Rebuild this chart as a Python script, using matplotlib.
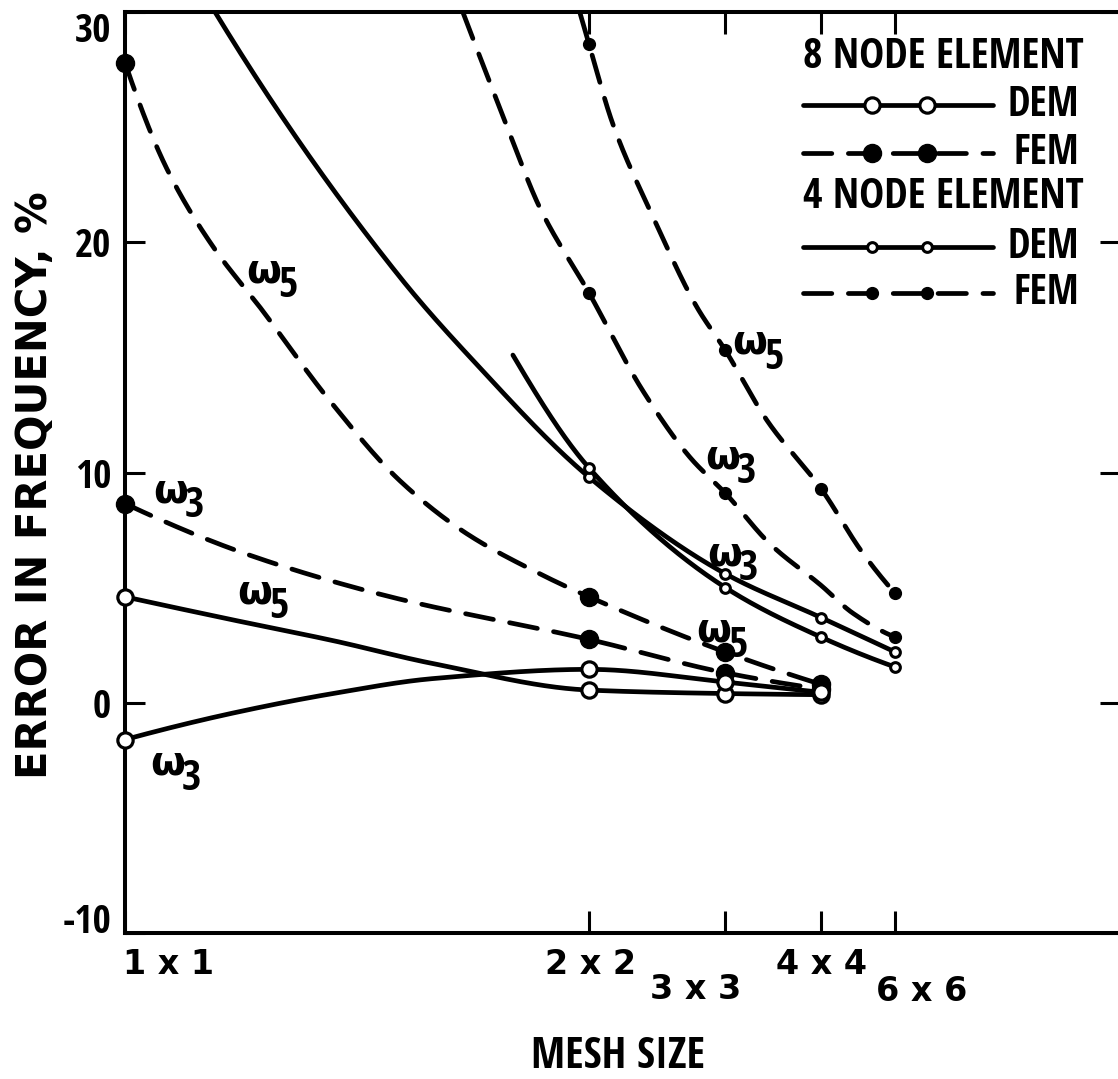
import numpy as np
import matplotlib
matplotlib.use('Agg')
import matplotlib.pyplot as plt
from matplotlib import font_manager as fm
from matplotlib.textpath import TextPath
from matplotlib.transforms import blended_transform_factory

# ---------------- data ----------------
mesh_labels = ['1 x 1', '2 x 2', '3 x 3', '4 x 4', '6 x 6']
mesh_pos = [0.0, 0.5, 0.647, 0.75, 0.83]          # position of each mesh on the x axis
y_ticks = [-10, 0, 10, 20, 30]
y_tick_labels = ['-10', '0', '10', '20', '30']

# 8 node element, FEM (large filled circles, dashed)
fem8_w5_x = [0.0, 0.045, 0.095, 0.145, 0.221, 0.296, 0.368, 0.447, 0.5, 0.647, 0.75]
fem8_w5_y = [27.8, 23.2, 19.8, 17.2, 13.1, 9.65, 7.35, 5.6, 4.6, 2.2, 0.8]
fem8_w3_x = [0.0, 0.135, 0.286, 0.5, 0.647, 0.75]
fem8_w3_y = [8.65, 6.4, 4.6, 2.75, 1.3, 0.6]
# 8 node element, DEM (large open circles, solid)
dem8_w5_x = [0.0, 0.116, 0.224, 0.332, 0.5, 0.647, 0.75]
dem8_w5_y = [4.6, 3.6, 2.7, 1.7, 0.55, 0.4, 0.35]
dem8_w3_x = [0.0, 0.116, 0.224, 0.332, 0.5, 0.647, 0.75]
dem8_w3_y = [-1.6, -0.45, 0.4, 1.05, 1.45, 0.9, 0.45]
# 4 node element, FEM (small filled circles, dashed)
fem4_w5_x = [0.490, 0.5, 0.526, 0.569, 0.616, 0.647, 0.692, 0.75, 0.795, 0.83]
fem4_w5_y = [30.0, 28.6, 25.1, 21.1, 17.2, 15.3, 12.25, 9.3, 6.5, 4.75]
fem4_w3_x = [0.364, 0.412, 0.447, 0.5, 0.558, 0.609, 0.647, 0.695, 0.75, 0.784, 0.83]
fem4_w3_y = [30.0, 25.0, 21.5, 17.8, 13.55, 10.65, 9.1, 6.9, 5.1, 3.9, 2.85]
fem4_w3_nomark = [0.75]                             # no symbol drawn at 4 x 4
# 4 node element, DEM (small open circles, solid)
dem4_a_x = [0.097, 0.296, 0.372, 0.5, 0.647, 0.75, 0.83]
dem4_a_y = [30.0, 18.5, 15.0, 9.8, 5.6, 3.7, 2.2]
dem4_b_x = [0.418, 0.5, 0.647, 0.75, 0.83]
dem4_b_y = [15.1, 10.2, 5.0, 2.85, 1.55]

# curve labels: (subscript, x, y of omega baseline-left)
omega_labels = [('5', 0.131, 18.27), ('3', 0.030, 8.71), ('5', 0.121, 4.33),
                ('3', 0.027, -3.13), ('5', 0.654, 15.18), ('3', 0.625, 10.19),
                ('3', 0.627, 5.98), ('5', 0.616, 2.64)]

PX_PER_PT = 100 / 72


# ---------------- fonts ----------------
def _weight(w):
    if isinstance(w, str):
        return fm.weight_dict.get(w, 400)
    return int(w)


def measure(fp, s):
    p = fp.copy()
    p.set_size(100)
    ext = TextPath((0, 0), s, prop=p).get_extents()
    return ext.width / 100.0, ext.height / 100.0


def pick_condensed_bold(target_ratio=9.5):
    best, best_d = None, 1e9
    ok_fams = ('dejavu sans', 'liberation sans', 'noto sans', 'roboto', 'open sans', 'lato')
    seen = set()
    for f in fm.fontManager.ttflist:
        nm = f.name.lower()
        if not nm.startswith(ok_fams):
            continue
        if any(b in nm for b in ('cjk', 'mono', 'display', 'math', 'symbol')):
            continue
        fn = f.fname.lower()
        if f.style != 'normal' or 'italic' in fn or 'oblique' in fn:
            continue
        if _weight(f.weight) < 600 or f.fname in seen:
            continue
        seen.add(f.fname)
        try:
            fp = fm.FontProperties(fname=f.fname)
            w, _ = measure(fp, '8 NODE ELEMENT')
            _, cap = measure(fp, 'H')
            ratio = w / cap
        except Exception:
            continue
        d = abs(ratio - target_ratio)
        if d < best_d:
            best_d, best = d, f.fname
    if best is None:
        return fm.FontProperties(family='DejaVu Sans', weight='bold')
    return fm.FontProperties(fname=best)


NARROW_FP = pick_condensed_bold()
WIDE_FP = fm.FontProperties(family='DejaVu Sans', weight='bold')


def sized(fp, size):
    p = fp.copy()
    p.set_size(size)
    return p


def fit(fp, s, width_px, cap_px):
    w, _ = measure(fp, s)
    _, cap = measure(fp, 'H')
    return min(width_px / (w * PX_PER_PT), cap_px / (cap * PX_PER_PT))


def pchip(x, y, xs):
    x = np.asarray(x, float)
    y = np.asarray(y, float)
    h = np.diff(x)
    d = np.diff(y) / h
    n = len(x)
    m = np.zeros(n)
    if n == 2:
        m[:] = d[0]
    else:
        for k in range(1, n - 1):
            if d[k - 1] * d[k] <= 0:
                m[k] = 0.0
            else:
                w1 = 2 * h[k] + h[k - 1]
                w2 = h[k] + 2 * h[k - 1]
                m[k] = (w1 + w2) / (w1 / d[k - 1] + w2 / d[k])

        def end(h0, h1, d0, d1):
            mm = ((2 * h0 + h1) * d0 - h0 * d1) / (h0 + h1)
            if np.sign(mm) != np.sign(d0):
                mm = 0.0
            elif np.sign(d0) != np.sign(d1) and abs(mm) > abs(3 * d0):
                mm = 3 * d0
            return mm
        m[0] = end(h[0], h[1], d[0], d[1])
        m[-1] = end(h[-1], h[-2], d[-1], d[-2])
    idx = np.clip(np.searchsorted(x, xs) - 1, 0, n - 2)
    t = (xs - x[idx]) / h[idx]
    h00 = 2 * t**3 - 3 * t**2 + 1
    h10 = t**3 - 2 * t**2 + t
    h01 = -2 * t**3 + 3 * t**2
    h11 = t**3 - t**2
    return h00 * y[idx] + h10 * h[idx] * m[idx] + h01 * y[idx + 1] + h11 * h[idx] * m[idx + 1]


LW = 3.4
DASH = (0, (6, 3.5))
BIG_OPEN = dict(marker='o', ms=11, mfc='white', mec='black', mew=2.3)
BIG_FILL = dict(marker='o', ms=13, mfc='black', mec='black', mew=1)
SMALL_OPEN = dict(marker='o', ms=7, mfc='white', mec='black', mew=2.2)
SMALL_FILL = dict(marker='o', ms=8.5, mfc='black', mec='black', mew=1)

fig = plt.figure(figsize=(11.18, 10.79), dpi=100)
ax = fig.add_axes([125 / 1118, 146 / 1079, 995 / 1118, 921 / 1079])
ax.set_xlim(0, 995 / 928)
ax.set_ylim(-10, 30)


def draw(xs, ys, ls, mstyle, nomark=()):
    xx = np.linspace(xs[0], xs[-1], 500)
    ax.plot(xx, pchip(xs, ys, xx), color='black', lw=LW, ls=ls,
            dash_capstyle='round', solid_capstyle='round', zorder=3)
    mx = [x for x in xs if x in mesh_pos and x not in nomark]
    my = [y for x, y in zip(xs, ys) if x in mesh_pos and x not in nomark]
    ax.plot(mx, my, ls='none', clip_on=False, zorder=5, **mstyle)


draw(fem8_w5_x, fem8_w5_y, DASH, BIG_FILL)
draw(fem8_w3_x, fem8_w3_y, DASH, BIG_FILL)
draw(dem8_w5_x, dem8_w5_y, '-', BIG_OPEN)
draw(dem8_w3_x, dem8_w3_y, '-', BIG_OPEN)
draw(fem4_w5_x, fem4_w5_y, DASH, SMALL_FILL)
draw(fem4_w3_x, fem4_w3_y, DASH, SMALL_FILL, nomark=fem4_w3_nomark)
draw(dem4_a_x, dem4_a_y, '-', SMALL_OPEN)
draw(dem4_b_x, dem4_b_y, '-', SMALL_OPEN)

# omega labels
sub_size = fit(NARROW_FP, '5', 30, 30)
for sub, x, y in omega_labels:
    ax.text(x, y, '\u03c9', va='baseline', ha='left', zorder=6, fontproperties=sized(WIDE_FP, 29))
    ax.annotate(sub, xy=(x, y), xytext=(23, -11), textcoords='offset points',
                va='baseline', ha='left', zorder=6, fontproperties=sized(NARROW_FP, sub_size))

# spines and ticks
for s in ax.spines.values():
    s.set_linewidth(2.9)
ax.set_yticks(y_ticks)
ax.set_yticklabels(y_tick_labels, fontproperties=sized(NARROW_FP, fit(NARROW_FP, '20', 48, 28)))
ax.tick_params(axis='y', direction='in', length=14.5, width=2.2, left=True, right=True,
               labelleft=True, labelright=False, pad=10)
ax.set_xticks(mesh_pos)
ax.set_xticklabels([])
ax.tick_params(axis='x', direction='in', length=16, width=2.2, top=True, bottom=True,
               labelbottom=False)
for lab in ax.get_yticklabels():
    if lab.get_text() == '30':
        lab.set_verticalalignment('top')
    elif lab.get_text() == '-10':
        lab.set_verticalalignment('baseline')

# x tick labels (staggered as in the original)
trans = blended_transform_factory(ax.transData, ax.transAxes)
xlab_offsets = [(31, -23), (1, -23), (-21.6, -41), (0, -23), (18.7, -42)]
for lab, xp, off in zip(mesh_labels, mesh_pos, xlab_offsets):
    ax.annotate(lab, xy=(xp, 0), xycoords=trans, xytext=off, textcoords='offset points',
                ha='center', va='center', annotation_clip=False, fontproperties=sized(WIDE_FP, 24))

fig.text(618 / 1118, 1 - 1057 / 1079, 'MESH SIZE', ha='center', va='center',
         fontproperties=sized(NARROW_FP, fit(NARROW_FP, 'MESH SIZE', 200, 31)))
fig.text(35 / 1118, 1 - 485 / 1079, 'ERROR IN FREQUENCY, %', ha='center', va='center',
         rotation=90, fontproperties=sized(WIDE_FP, 30))


# legend (drawn by hand, in axes fractions)
def af(px, py):
    return (px - 125) / 995, (933 - py) / 921


LEG_SIZE = fit(NARROW_FP, '8 NODE ELEMENT', 290, 30)


def leg_row(py, ls, mstyle, label, lx):
    x0, y0 = af(803, py)
    x1, _ = af(993, py)
    m1, _ = af(872, py)
    m2, _ = af(927, py)
    ax.plot([x0, x1], [y0, y0], transform=ax.transAxes, color='black', lw=LW, ls=ls,
            dash_capstyle='round', solid_capstyle='round', clip_on=False)
    ax.plot([m1, m2], [y0, y0], transform=ax.transAxes, ls='none', clip_on=False,
            zorder=5, **mstyle)
    tx, _ = af(lx, py)
    ax.text(tx, y0, label, transform=ax.transAxes, ha='left', va='center',
            fontproperties=sized(NARROW_FP, min(LEG_SIZE * 1.05, fit(NARROW_FP, 'DEM', 95, 29))))


hx, hy = af(803, 58)
ax.text(hx, hy, '8 NODE ELEMENT', transform=ax.transAxes, ha='left', va='center',
        fontproperties=sized(NARROW_FP, LEG_SIZE))
leg_row(105, '-', BIG_OPEN, 'DEM', 1008)
leg_row(153, DASH, BIG_FILL, 'FEM', 1013)
hx, hy = af(803, 197)
ax.text(hx, hy, '4 NODE ELEMENT', transform=ax.transAxes, ha='left', va='center',
        fontproperties=sized(NARROW_FP, LEG_SIZE))
leg_row(247, '-', SMALL_OPEN, 'DEM', 1008)
leg_row(293, DASH, SMALL_FILL, 'FEM', 1013)

fig.savefig('out.png', dpi=100)
